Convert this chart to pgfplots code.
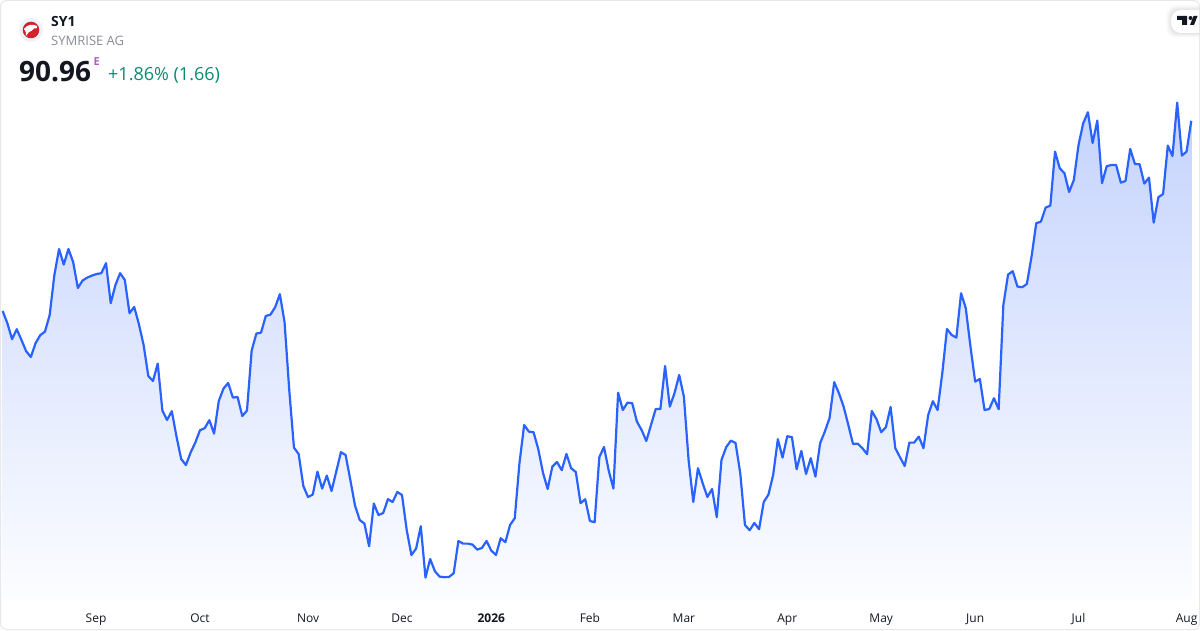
\documentclass[border=0pt]{standalone}
\usepackage{fontspec}
\setmainfont{Open Sans}
\usepackage{pgfplots}
\usepackage{pgfplotstable}
\pgfplotsset{compat=1.18}
\definecolor{tvblue}{HTML}{2962FF}
\definecolor{fillTop}{HTML}{C5D3FD}
\definecolor{fillBot}{HTML}{FCFDFF}
\definecolor{cardBorder}{HTML}{E6E8EE}
\definecolor{ink}{HTML}{131722}
\definecolor{subtle}{HTML}{8A8D96}
\definecolor{upgreen}{HTML}{0B8A72}
\definecolor{purpleE}{HTML}{B45BC8}
\definecolor{logored}{HTML}{D2232A}
\definecolor{logobg}{HTML}{EEF1FA}
\pgfplotstableread{
i p
0 81.45
1 80.84
2 80.04
3 80.54
4 80.00
5 79.44
6 79.15
7 79.84
8 80.24
9 80.42
10 81.24
11 83.24
12 84.55
13 83.77
14 84.55
15 83.90
16 82.60
17 82.97
18 83.12
19 83.22
20 83.30
21 83.34
22 83.84
23 81.84
24 82.75
25 83.34
26 83.00
27 81.34
28 81.65
29 80.79
30 79.75
31 78.20
32 77.95
33 78.82
34 76.47
35 76.00
36 76.44
37 75.17
38 74.05
39 73.75
40 74.37
41 74.87
42 75.49
43 75.59
44 75.99
45 75.32
46 76.95
47 77.57
48 77.85
49 77.12
50 77.15
51 76.20
52 76.47
53 79.47
54 80.32
55 80.37
56 81.20
57 81.27
58 81.64
59 82.29
60 80.90
61 77.50
62 74.62
63 74.30
64 72.70
65 72.15
66 72.27
67 73.42
68 72.57
69 73.22
70 72.45
71 73.42
72 74.39
73 74.25
74 73.00
75 71.72
76 71.00
77 70.82
78 69.69
79 71.82
80 71.25
81 71.35
82 72.04
83 71.90
84 72.40
85 72.25
86 70.50
87 69.25
88 69.57
89 70.69
90 68.12
91 69.05
92 68.44
93 68.17
94 68.14
95 68.15
96 68.34
97 69.95
98 69.82
99 69.82
100 69.77
101 69.52
102 69.60
103 69.95
104 69.47
105 69.25
106 70.09
107 69.89
108 70.75
109 71.09
110 73.84
111 75.75
112 75.42
113 75.39
114 74.55
115 73.37
116 72.55
117 73.67
118 73.90
119 73.49
120 74.30
121 73.59
122 73.40
123 71.84
124 72.04
125 70.95
126 70.89
127 74.14
128 74.65
129 73.47
130 72.57
131 77.37
132 76.50
133 76.87
134 76.84
135 75.92
136 75.50
137 74.95
138 75.75
139 76.55
140 76.55
141 78.70
142 76.67
143 77.34
144 78.25
145 77.17
146 74.00
147 71.90
148 73.59
149 72.84
150 72.15
151 72.55
152 71.14
153 74.00
154 74.64
155 74.97
156 74.85
157 73.34
158 70.75
159 70.49
160 70.85
161 70.54
162 71.90
163 72.27
164 73.25
165 75.04
166 74.12
167 75.19
168 75.14
169 73.54
170 74.45
171 73.30
172 74.09
173 73.17
174 74.84
175 75.42
176 76.09
177 77.89
178 77.34
179 76.67
180 75.75
181 74.80
182 74.82
183 74.59
184 74.29
185 76.45
186 76.04
187 75.39
188 75.64
189 76.65
190 74.59
191 74.14
192 73.70
193 74.87
194 74.87
195 75.17
196 74.59
197 76.25
198 76.94
199 76.50
200 78.34
201 80.55
202 80.25
203 80.12
204 82.34
205 81.59
206 79.67
207 77.92
208 78.05
209 76.50
210 76.55
211 77.09
212 76.54
213 81.75
214 83.27
215 83.44
216 82.67
217 82.64
218 82.80
219 84.17
220 85.84
221 85.92
222 86.62
223 86.72
224 89.42
225 88.59
226 88.34
227 87.40
228 88.00
229 89.75
230 90.84
231 91.39
232 89.85
233 90.97
234 87.84
235 88.69
236 88.75
237 88.75
238 87.87
239 87.95
240 89.55
241 88.80
242 88.79
243 87.82
244 88.12
245 85.87
246 87.14
247 87.30
248 89.72
249 89.20
250 91.87
251 89.22
252 89.42
253 90.96
}\pricedata
\begin{document}
\begin{tikzpicture}[x=1pt,y=1pt]
\path[use as bounding box] (0,0) rectangle (1200,630);
\fill[white] (0,0) rectangle (1200,630);
\begin{axis}[
  at={(0pt,30pt)}, anchor=south west,
  scale only axis, width=1200pt, height=600pt,
  xmin=-0.568, xmax=254.86, ymin=67, ymax=97,
  clip=false,
  axis line style={draw=none},
  major tick length=0pt,
  ytick=\empty,
  xtick={19.87,42,65,85,104,125,145,167,187,207,229,252},
  xticklabels={Sep,Oct,Nov,Dec,{\bfseries 2026},Feb,Mar,Apr,May,Jun,Jul,Aug},
  xticklabel style={anchor=base, yshift=-22pt, font=\fontsize{12}{14}\selectfont, text=ink},
]
\addplot[draw=none, top color=fillTop, bottom color=fillBot] table[x=i,y=p] {\pricedata} \closedcycle;
\addplot[tvblue, line width=2.2pt, line join=round, no markers] table[x=i,y=p] {\pricedata};
\end{axis}
% card border
\draw[cardBorder, line width=1pt, rounded corners=6pt] (0.5,0.5) rectangle (1199.5,629.5);
% TradingView tab
\begin{scope}
\clip (1140,0) rectangle (1199,630);
\foreach \g/\o in {5/0.012,4/0.015,3/0.02,2/0.025,1/0.03}{
  \fill[black,opacity=\o,rounded corners=9pt] (1171-\g,630-33-\g) rectangle (1215,630-10+\g);
}
\fill[white,rounded corners=10pt] (1171,630-33) rectangle (1215,630-10);
\end{scope}
\fill[ink] (1177,630-16) -- (1187,630-16) -- (1187,630-25) -- (1182,630-25) -- (1182,630-20) -- (1177,630-20) -- cycle;
\fill[ink] (1190.5,630-18) circle (2pt);
\fill[ink] (1190,630-25) -- (1193.5,630-16) -- (1197.5,630-16) -- (1194,630-25) -- cycle;
% company logo
\fill[logobg] (31,630-30) circle (12);
\fill[logored] (31,630-30) circle (8.3);
\fill[white] (24,630-29) .. controls (27,630-24.5) and (33,630-23.5) .. (37,630-26) .. controls (38.5,630-28) and (36,630-29) .. (34,630-28.5) .. controls (33,630-31) and (30,630-31) .. (29,630-32) -- (26,630-36) .. controls (26.5,630-33) and (26,630-31) .. (24,630-29) -- cycle;
% header text
\node[anchor=base west,inner sep=0pt,text=ink] at (51,630-26.5) {\fontsize{14}{16}\selectfont\bfseries SY1};
\node[anchor=base west,inner sep=0pt,text=subtle] at (51,630-45.5) {\fontsize{13}{15}\selectfont SYMRISE AG};
\node[anchor=base west,inner sep=0pt,text=ink] at (19,630-81.5) {\fontsize{28}{32}\selectfont\bfseries 90.96};
\node[anchor=base west,inner sep=0pt,text=purpleE] at (93.5,630-66) {\fontsize{11}{13}\selectfont\bfseries E};
\node[anchor=base west,inner sep=0pt,text=upgreen] at (108,630-80.5) {\fontsize{18}{20}\selectfont +1.86\% (1.66)};
\end{tikzpicture}
\end{document}
